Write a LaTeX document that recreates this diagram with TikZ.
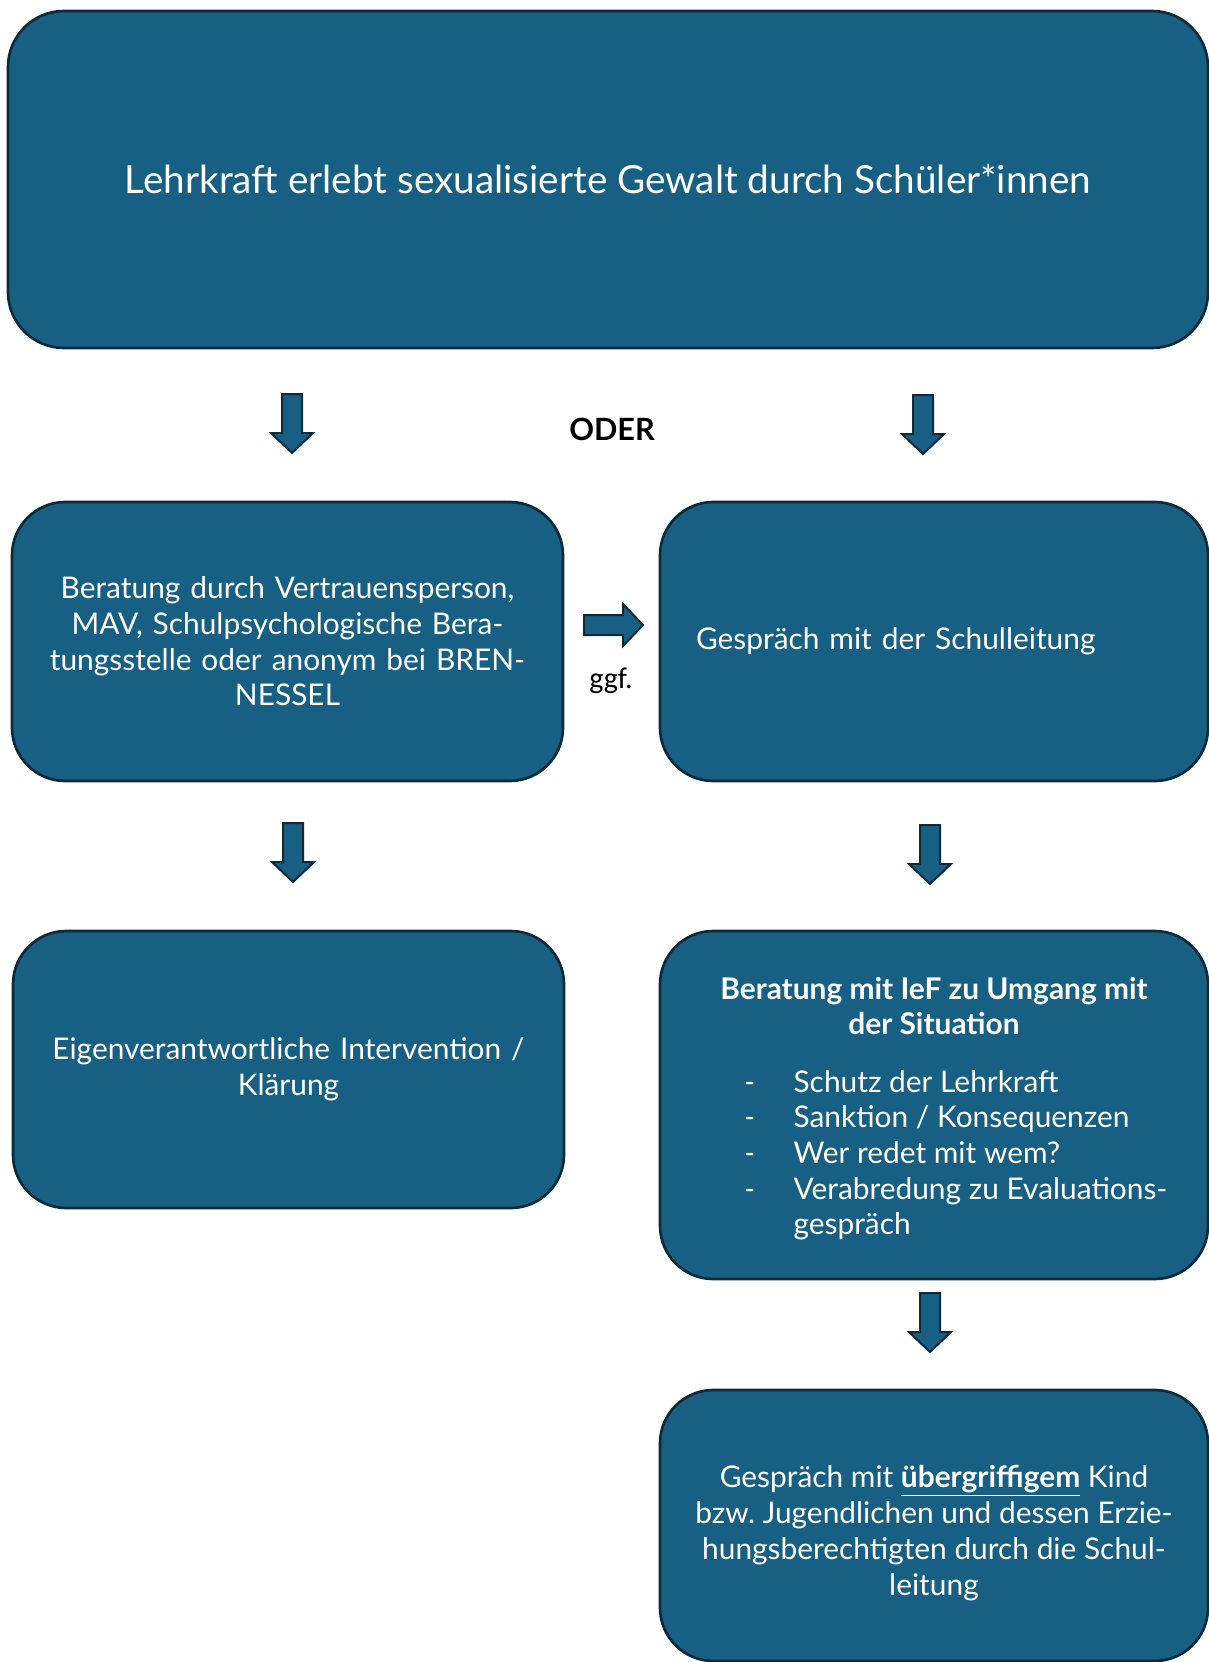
\documentclass[tikz,border=0pt]{standalone}
\usepackage{fontspec}
\setmainfont{Lato}
\newfontfamily\ggffont{Carlito}
\usetikzlibrary{positioning}
\definecolor{boxblue}{HTML}{186083}
\definecolor{boxedge}{HTML}{0D2A3B}
\frenchspacing
\tikzset{
  flowbox/.style={draw=boxedge, line width=2pt, fill=boxblue, rounded corners=40pt,
    text=white, inner sep=0pt, align=center,
    font=\fontsize{22.4}{26.8}\selectfont},
  downarrow/.pic={
    \draw[fill=boxblue, draw=boxedge, line width=1.5pt, line join=miter]
      (-10,0) -- (10,0) -- (10,39) -- (21,39) -- (0,59) -- (-21,39) -- (-10,39) -- cycle;}
}
% lower a centred text block without moving its box
\newcommand{\lowertext}[3]{\raisebox{-#1}[\height][\depth]{\parbox{#2}{\centering #3}}}
\begin{document}
\begin{tikzpicture}[x=0.75pt,y=-0.75pt]
\useasboundingbox (0,0) rectangle (1209,1662);

% start
\node[flowbox, minimum width=900pt, minimum height=252.75pt, rounded corners=42pt,
  font=\fontsize{29}{34}\selectfont] (incident) at (608,179.5)
  {Lehrkraft erlebt sexualisierte Gewalt durch Schüler*innen};

\pic at (292,394) {downarrow};
\pic at (923,395) {downarrow};
\node[font=\fontsize{23}{26}\selectfont\bfseries] (oder) at (612,429) {ODER};

% second row
\node[flowbox, minimum width=413.25pt, minimum height=209.25pt, text width=373pt] (trust)
  at (287.5,641.5)
  {Beratung durch Vertrauensperson,\\MAV, Schulpsychologische Bera-\\tungsstelle oder anonym bei BREN-\\NESSEL};
\node[flowbox, minimum width=411pt, minimum height=209.25pt, text width=357pt, align=left] (head)
  at (934,641.5) {Gespräch mit der Schulleitung};

\pic[rotate=90] at (584,625) {downarrow};
\node[font=\fontsize{22.5}{26}\ggffont] (ggf) at (611,681) {ggf.};

\pic at (293,823) {downarrow};
\pic at (930,825) {downarrow};

% third row
\node[flowbox, minimum width=413.25pt, minimum height=207.75pt, text width=373pt] (selfact)
  at (288.5,1069.5) {Eigenverantwortliche Intervention /\\Klärung};
\node[flowbox, minimum width=411pt, minimum height=261pt] (iefmeeting)
  at (934,1105)
  {\lowertext{4.8pt}{352.5pt}{\textbf{Beratung mit IeF zu Umgang mit}\\\textbf{der Situation}\\[16pt]
   \begin{tabular}[t]{@{}p{69.75pt}@{}l@{}}
   \hspace*{32.75pt}- & Schutz der Lehrkraft\\
   \hspace*{32.75pt}- & Sanktion / Konsequenzen\\
   \hspace*{32.75pt}- & Wer redet mit wem?\\
   \hspace*{32.75pt}- & Verabredung zu Evaluations-\\
                      & gespräch
   \end{tabular}}};

\pic at (930,1293) {downarrow};

% last step
\node[flowbox, minimum width=411pt, minimum height=203.25pt] (parentmeeting)
  at (934,1525.5)
  {\lowertext{5.7pt}{371pt}{Gespräch mit \underline{\textbf{übergriffigem}} Kind\\bzw. Jugendlichen und dessen Erzie-\\hungsberechtigten durch die Schul-\\leitung}};
\end{tikzpicture}
\end{document}
